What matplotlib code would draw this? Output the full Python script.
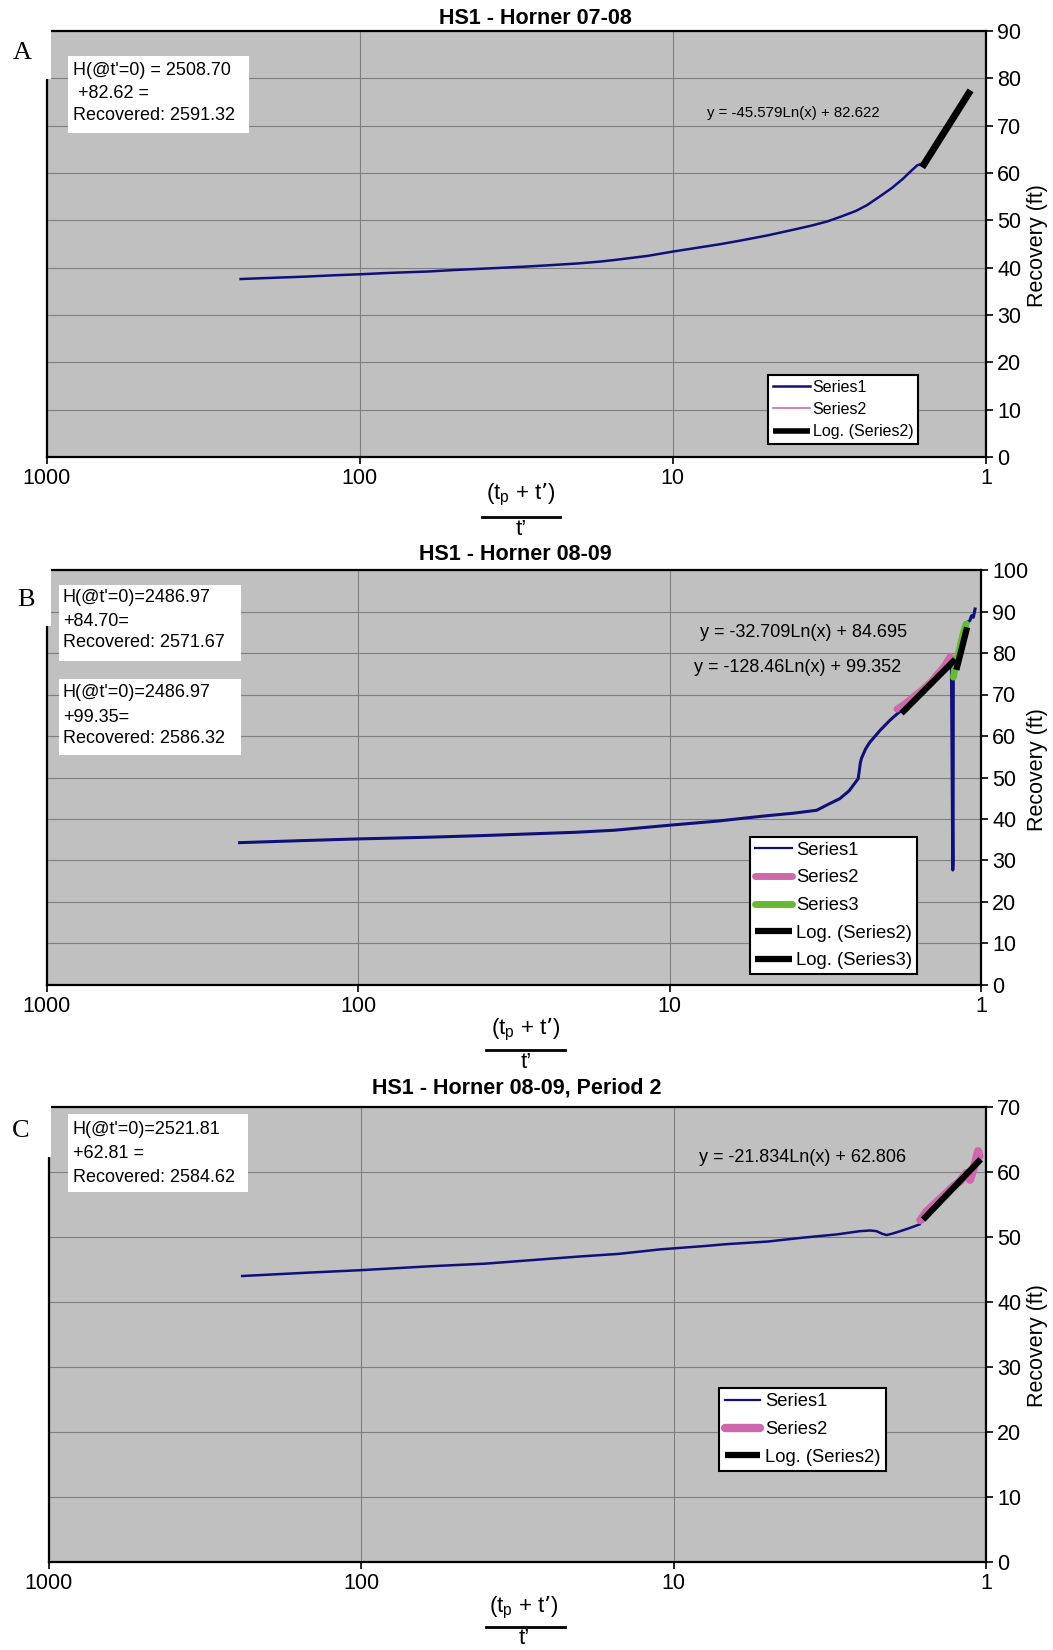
import matplotlib
matplotlib.use("Agg")
import numpy as np
import matplotlib.pyplot as plt
from matplotlib.patches import Rectangle
from matplotlib.lines import Line2D
from matplotlib.ticker import NullLocator

plt.rcParams['font.family'] = ['Liberation Sans', 'DejaVu Sans']

# ---------------- data ----------------
# Panel A: HS1 - Horner 07-08
a_s1_x = [240, 200, 150, 120, 100, 80, 60, 50, 40, 30, 25, 20, 17, 15, 12, 10, 8, 7, 6, 5,
          4.2, 3.6, 3.2, 2.9, 2.6, 2.4, 2.2, 2.0, 1.84, 1.75, 1.66, 1.6]
a_s1_y = [37.6, 37.8, 38.1, 38.4, 38.6, 38.9, 39.2, 39.5, 39.8, 40.2, 40.5, 40.9, 41.3, 41.7, 42.5,
          43.4, 44.4, 45.0, 45.8, 46.8, 47.9, 48.9, 49.8, 50.8, 52.0, 53.2, 54.9, 56.8, 58.8, 60.2,
          61.6, 62.0]
a_s2_x = [1.6, 1.5, 1.4, 1.3, 1.2, 1.12]
a_s2_y = [61.4, 63.9, 67.0, 70.4, 74.0, 77.1]
a_fit = (-45.579, 82.622)
a_fit_range = (1.6, 1.12)

# Panel B: HS1 - Horner 08-09
b_s1_x = [240, 150, 100, 60, 40, 20, 15, 10, 7, 5.93, 5, 4, 3.37, 3.1, 2.84, 2.65, 2.48, 2.46,
          2.44, 2.42, 2.35, 2.28, 2.22, 2.1, 1.96, 1.88, 1.80,
          1.65, 1.5, 1.38, 1.27, 1.245, 1.232, 1.229, 1.227, 1.19, 1.15, 1.127, 1.086, 1.072,
          1.058, 1.045]
b_s1_y = [34.3, 34.8, 35.2, 35.6, 36.0, 36.8, 37.3, 38.5, 39.5, 40.1, 40.7, 41.4, 42.1, 43.5,
          44.9, 46.8, 49.7, 51.5, 53.5, 54.6, 56.8, 58.4, 59.4, 61.5, 63.8, 65.0, 66.2,
          69.0, 71.8, 74.7, 78.0, 78.8, 27.7, 30.0, 74.5, 78.8, 83.4, 87.0, 87.8, 89.0,
          88.6, 90.6]
b_s2_x = [1.86, 1.75, 1.65, 1.55, 1.45, 1.38, 1.31, 1.255]
b_s2_y = [66.5, 67.8, 69.4, 71.0, 73.0, 74.9, 76.9, 79.2]
b_s3_x = [1.226, 1.21, 1.19, 1.17, 1.15, 1.13, 1.115]
b_s3_y = [74.2, 77.0, 79.0, 81.2, 83.6, 85.8, 87.0]
b_fit2 = (-32.709, 84.695)
b_fit2_range = (1.80, 1.21)
b_fit3 = (-128.46, 99.352)
b_fit3_range = (1.20, 1.108)

# Panel C: HS1 - Horner 08-09, Period 2
c_s1_x = [240, 150, 100, 60, 40, 20, 15, 11, 8, 6.76, 5, 3.85, 3.0, 2.53, 2.35, 2.24, 2.15,
          2.08, 2.0, 1.88, 1.75, 1.63]
c_s1_y = [44.0, 44.5, 44.9, 45.5, 45.9, 47.0, 47.4, 48.1, 48.6, 48.9, 49.3, 49.9, 50.4, 50.9,
          51.0, 50.9, 50.5, 50.3, 50.5, 50.9, 51.4, 51.95]
c_s2_x = [1.62, 1.55, 1.48, 1.40, 1.33, 1.27, 1.21, 1.16, 1.125, 1.10, 1.08, 1.06, 1.05]
c_s2_y = [52.6, 53.9, 54.8, 55.9, 56.9, 57.8, 58.6, 59.8, 58.8, 60.3, 61.6, 63.2, 62.4]
c_fit = (-21.834, 62.806)
c_fit_range = (1.59, 1.04)

x_ticks = [1000, 100, 10, 1]
x_tick_labels = ['1000', '100', '10', '1']

# ---------------- styling ----------------
W, H = 1053, 1650
NAVY = '#10107a'
PINK = '#cf67ad'
GREEN = '#66bb33'
PLOT_BG = '#c0c0c0'
GRID = '#7f7f7f'

fig = plt.figure(figsize=(W / 100, H / 100), dpi=100)


def fx(x):
    return x / W


def fy(y):
    return 1 - y / H


def make_axes(l, t, r, b, ymax, fs):
    ax = fig.add_axes([fx(l), fy(b), (r - l) / W, (b - t) / H])
    ax.set_facecolor(PLOT_BG)
    ax.set_xscale('log')
    ax.set_xlim(1000, 1)
    ax.set_ylim(0, ymax)
    ax.set_xticks(x_ticks)
    ax.set_xticklabels(x_tick_labels)
    ax.xaxis.set_minor_locator(NullLocator())
    ax.set_yticks(range(0, ymax + 1, 10))
    ax.yaxis.tick_right()
    ax.tick_params(direction='out', length=5, width=1.2, labelsize=fs, pad=3, colors='black')
    ax.grid(True, color=GRID, lw=0.8)
    ax.set_axisbelow(True)
    for s in ax.spines.values():
        s.set_linewidth(1.6)
        s.set_color('black')
    return ax


def fit_line(ax, coef, xr, label, lw):
    xs = np.linspace(xr[0], xr[1], 40)
    ys = coef[0] * np.log(xs) + coef[1]
    return ax.plot(xs, ys, color='black', lw=lw, solid_capstyle='butt', label=label, zorder=5)[0]


def note_box(x0, y0, x1, y1, lines, ys, tx, fs):
    fig.add_artist(Rectangle((fx(x0), fy(y1)), (x1 - x0) / W, (y1 - y0) / H,
                             transform=fig.transFigure, facecolor='white',
                             edgecolor='none', zorder=5))
    for line, yy in zip(lines, ys):
        fig.text(fx(tx), fy(yy), line, fontsize=fs, va='center', ha='left', zorder=6)


def frac_label(cx, y_num, y_bar, y_den_top, x0, x1, fs):
    fig.text(fx(cx), fy(y_num), "(t$_\\mathregular{p}$ + t\u2019)", ha='center', va='center', fontsize=fs)
    fig.add_artist(Line2D([fx(x0), fx(x1)], [fy(y_bar)] * 2, transform=fig.transFigure,
                          color='black', lw=2))
    fig.text(fx(cx), fy(y_den_top), "t\u2019", ha='center', va='top', fontsize=fs)


def legend(ax, handles, x, y, fs, hl, ls, tp, bp):
    leg = ax.legend(handles=handles, loc='upper left', bbox_to_anchor=(fx(x), fy(y)),
                    bbox_transform=fig.transFigure, fontsize=fs, frameon=True, fancybox=False,
                    edgecolor='black', facecolor='white', framealpha=1, borderpad=bp,
                    labelspacing=ls, handlelength=hl, handletextpad=tp, borderaxespad=0)
    leg.get_frame().set_linewidth(1.5)
    leg.set_zorder(10)
    return leg


# ---------------- Panel A ----------------
axA = make_axes(46.5, 31, 986, 457, 90, 15.5)
hA1, = axA.plot(a_s1_x, a_s1_y, color=NAVY, lw=1.8, label='Series1')
hA2, = axA.plot(a_s2_x, a_s2_y, color=PINK, lw=1.2, label='Series2')
hA3 = fit_line(axA, a_fit, a_fit_range, 'Log. (Series2)', 5)
legA = legend(axA, [hA1, hA2, hA3], 768, 375, 11.5, 2.3, 0.45, 0.2, 0.3)
legA.legend_handles[2].set_linewidth(4)

fig.text(fx(535), fy(18), 'HS1 - Horner 07-08', fontsize=15.5, fontweight='bold', ha='center', va='center')
note_box(68, 56, 249, 133, ["H(@t'=0) = 2508.70", " +82.62 =", "Recovered: 2591.32"],
         [70.3, 93.7, 115.8], 72.7, 13)
fig.text(fx(793), fy(112.7), 'y = -45.579Ln(x) + 82.622', fontsize=10.8, ha='center', va='center')
fig.text(fx(1038), fy(246), 'Recovery (ft)', rotation=90, fontsize=15.5, ha='center', va='center')
frac_label(521, 494, 516.5, 519, 482, 560, 16)

# ---------------- Panel B ----------------
axB = make_axes(46.5, 570, 981, 985, 100, 15.5)
hB1, = axB.plot(b_s1_x, b_s1_y, color=NAVY, lw=2.2, label='Series1')
hB2, = axB.plot(b_s2_x, b_s2_y, color=PINK, lw=5, solid_capstyle='round', label='Series2')
hB3, = axB.plot(b_s3_x, b_s3_y, color=GREEN, lw=5, solid_capstyle='round', label='Series3')
hB4 = fit_line(axB, b_fit2, b_fit2_range, 'Log. (Series2)', 4.5)
hB5 = fit_line(axB, b_fit3, b_fit3_range, 'Log. (Series3)', 4.5)
legB = legend(axB, [hB1, hB2, hB3, hB4, hB5], 750, 837, 13.3, 2.05, 0.58, 0.2, 0.25)
legB.legend_handles[0].set_linewidth(1.6)

fig.text(fx(515), fy(554), 'HS1 - Horner 08-09', fontsize=15.5, fontweight='bold', ha='center', va='center')
note_box(59, 585, 241, 661, ["H(@t'=0)=2486.97", "+84.70=", "Recovered: 2571.67"],
         [597, 621, 643], 63, 13)
note_box(59, 679, 241, 755, ["H(@t'=0)=2486.97", "+99.35=", "Recovered: 2586.32"],
         [693, 717.5, 738.5], 63, 13)
fig.text(fx(804), fy(633), 'y = -32.709Ln(x) + 84.695', fontsize=13, ha='center', va='center')
fig.text(fx(798), fy(668), 'y = -128.46Ln(x) + 99.352', fontsize=13, ha='center', va='center')
fig.text(fx(1038), fy(770), 'Recovery (ft)', rotation=90, fontsize=15.5, ha='center', va='center')
frac_label(526, 1029, 1050, 1052, 486, 565, 16)

# ---------------- Panel C ----------------
axC = make_axes(48.5, 1107, 986, 1562, 70, 15.5)
hC1, = axC.plot(c_s1_x, c_s1_y, color=NAVY, lw=1.8, label='Series1')
hC2, = axC.plot(c_s2_x, c_s2_y, color=PINK, lw=6, solid_capstyle='round', label='Series2')
hC3 = fit_line(axC, c_fit, c_fit_range, 'Log. (Series2)', 4.5)
legC = legend(axC, [hC1, hC2, hC3], 719, 1388, 13.2, 1.95, 0.58, 0.27, 0.3)
legC.legend_handles[0].set_linewidth(1.6)

fig.text(fx(517), fy(1088), "HS1 - Horner 08-09, Period 2", fontsize=15.5, fontweight='bold', ha='center', va='center')
note_box(68, 1114, 248, 1192, ["H(@t'=0)=2521.81", "+62.81 =", "Recovered: 2584.62"],
         [1129, 1154, 1178], 72.7, 13)
fig.text(fx(803), fy(1157), 'y = -21.834Ln(x) + 62.806', fontsize=13, ha='center', va='center')
fig.text(fx(1038), fy(1346), 'Recovery (ft)', rotation=90, fontsize=15.5, ha='center', va='center')
frac_label(524, 1607, 1627, 1628, 486, 565, 16)

# Panel letters on white corner patches
for letter, cx, cy, yb in [('A', 22, 53, 79), ('B', 26, 600, 626), ('C', 21, 1131, 1157)]:
    y_top = yb - 60 if letter != 'A' else 0
    fig.add_artist(Rectangle((0, fy(yb)), fx(51), (yb - y_top) / H,
                             transform=fig.transFigure, facecolor='white', edgecolor='none', zorder=4))
    fig.text(fx(cx), fy(cy), letter, fontsize=19, family='Liberation Serif',
             ha='center', va='center', zorder=6)

fig.savefig('out.png', dpi=100, facecolor='white')
